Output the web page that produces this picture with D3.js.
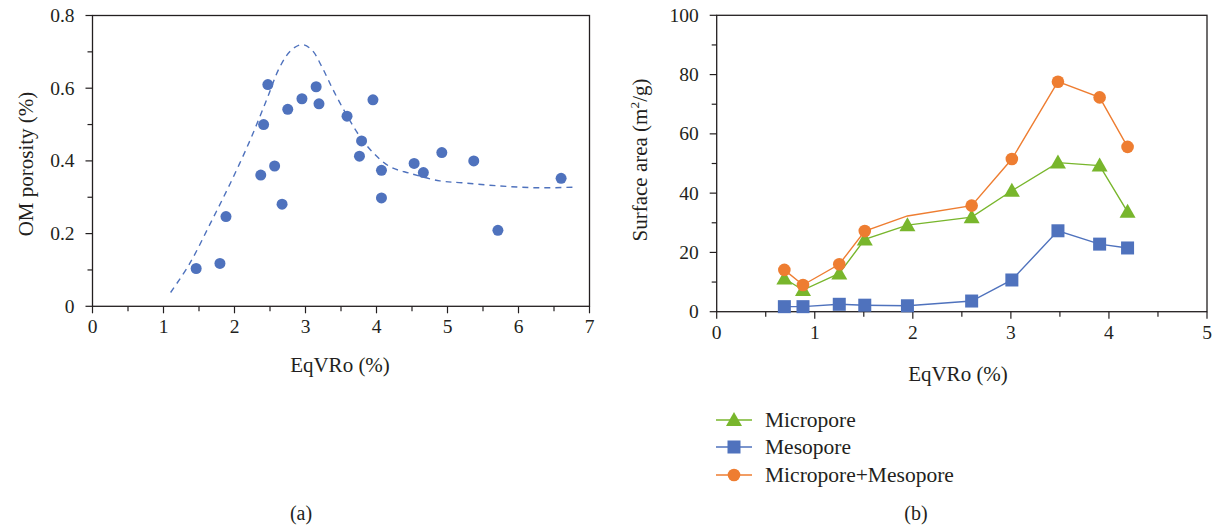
<!DOCTYPE html>
<html><head><meta charset="utf-8">
<script src="https://cdn.jsdelivr.net/npm/d3@7"></script>
<style>body{margin:0;background:#fff}svg{display:block}text{font-family:"Liberation Serif","DejaVu Serif",serif;fill:#231f20}</style>
</head><body><svg id="c" width="1215" height="527"></svg>
<script>
// ---- Panel (a) data ----
const porosityX = [1.46,1.795,1.88,2.37,2.41,2.47,2.565,2.67,2.75,2.95,3.15,3.19,3.585,3.79,3.76,3.95,4.07,4.07,4.53,4.66,4.92,5.37,5.71,6.60];
const porosityY = [0.104,0.118,0.247,0.361,0.500,0.610,0.386,0.281,0.542,0.571,0.604,0.557,0.523,0.455,0.413,0.568,0.374,0.298,0.393,0.368,0.423,0.400,0.209,0.352];
const trendX = [1.10,1.37,1.66,1.94,2.22,2.45,2.64,2.80,2.95,3.09,3.23,3.39,3.58,3.77,3.96,4.19,4.47,4.89,5.20,5.74,6.29,6.83];
const trendY = [0.038,0.118,0.228,0.338,0.457,0.567,0.659,0.705,0.720,0.705,0.659,0.595,0.526,0.466,0.421,0.384,0.366,0.345,0.340,0.331,0.326,0.328];
const aXTicks = [0,1,2,3,4,5,6,7];
const aYTicks = [0,0.2,0.4,0.6,0.8];
// ---- Panel (b) data ----
const eqvro = [0.69,0.88,1.25,1.51,1.945,2.60,3.01,3.48,3.905,4.19];
const micropore = [11.2,7.3,12.9,24.4,29.2,31.9,40.8,50.3,49.3,33.7];
const mesopore = [1.7,1.7,2.5,2.2,2.0,3.6,10.7,27.3,22.8,21.5];
const total = [14.1,9.0,16.0,27.2,32.3,35.8,51.5,77.6,72.3,55.6];
const totalMarkerHidden = [4];
const bXTicks = [0,1,2,3,4,5];
const bYTicks = [0,20,40,60,80,100];
const seriesNames = ["Micropore","Mesopore","Micropore+Mesopore"];

const svg = d3.select("#c");
const BLUE="#4f72bd", ORANGE="#ee7d31", GREEN="#78b62c", AXIS="#231f20";

function frame(g, x, y, xMinor, yMinor, xTicks, yTicks, yFmt){
  const [x0,x1]=x.range(), [y0,y1]=y.range();
  g.append("rect").attr("x",x0).attr("y",y1).attr("width",x1-x0).attr("height",y0-y1)
    .attr("fill","none").attr("stroke",AXIS).attr("stroke-width",1.3);
  g.selectAll(".xt").data(xMinor).join("line").attr("x1",d=>x(d)).attr("x2",d=>x(d))
    .attr("y1",y0).attr("y2",d=>y0+(xTicks.includes(d)?7:5)).attr("stroke",AXIS).attr("stroke-width",1.2);
  g.selectAll(".yt").data(yMinor).join("line").attr("y1",d=>y(d)).attr("y2",d=>y(d))
    .attr("x1",x0).attr("x2",d=>x0-(yTicks.includes(d)?7:5)).attr("stroke",AXIS).attr("stroke-width",1.2);
  g.selectAll(".xl").data(xTicks).join("text").attr("x",d=>x(d)).attr("y",y0+27)
    .attr("text-anchor","middle").attr("font-size",19.5).text(d=>d);
  g.selectAll(".yl").data(yTicks).join("text").attr("x",x0-18).attr("y",d=>y(d)+6.5)
    .attr("text-anchor","end").attr("font-size",19.5).text(yFmt);
}

// ---- Panel (a) ----
const xa = d3.scaleLinear().domain([0,7]).range([92.5,589.5]);
const ya = d3.scaleLinear().domain([0,0.8]).range([306.3,15.5]);
const ga = svg.append("g");
frame(ga, xa, ya, d3.range(0,7.01,0.5).map(v=>+v.toFixed(1)), d3.range(0,0.801,0.1).map(v=>+v.toFixed(1)),
  aXTicks, aYTicks, d=>d===0?"0":d.toFixed(1));
ga.append("path").datum(trendX.map((v,i)=>[v,trendY[i]]))
  .attr("d", d3.line().x(d=>xa(d[0])).y(d=>ya(d[1])).curve(d3.curveCatmullRom))
  .attr("fill","none").attr("stroke",BLUE).attr("stroke-width",1.4).attr("stroke-dasharray","6,5");
ga.selectAll(".pt").data(porosityX.map((v,i)=>[v,porosityY[i]])).join("circle")
  .attr("cx",d=>xa(d[0])).attr("cy",d=>ya(d[1])).attr("r",5.5).attr("fill",BLUE);
ga.append("text").attr("x",340).attr("y",372).attr("text-anchor","middle").attr("font-size",21).text("EqVRo (%)");
ga.append("text").attr("transform","translate(33,164) rotate(-90)").attr("text-anchor","middle").attr("font-size",21).text("OM porosity (%)");
ga.append("text").attr("x",301).attr("y",520).attr("text-anchor","middle").attr("font-size",20).text("(a)");

// ---- Panel (b) ----
const xb = d3.scaleLinear().domain([0,5]).range([716.7,1207]);
const yb = d3.scaleLinear().domain([0,100]).range([311.7,15.3]);
const gb = svg.append("g");
frame(gb, xb, yb, d3.range(0,5.01,0.5).map(v=>+v.toFixed(1)), d3.range(0,100.1,10),
  bXTicks, bYTicks, d=>d);
const line = d3.line().x(d=>xb(d[0])).y(d=>yb(d[1]));
const series = [
  {name:seriesNames[0], vals:micropore, color:GREEN, shape:"tri"},
  {name:seriesNames[1], vals:mesopore, color:BLUE, shape:"sq"},
  {name:seriesNames[2], vals:total, color:ORANGE, shape:"circ"}
];
function marker(g, shape, cx, cy, color){
  if(shape==="tri") g.append("path").attr("d",`M${cx},${cy-8}L${cx+8},${cy+6}L${cx-8},${cy+6}Z`).attr("fill",color);
  else if(shape==="sq") g.append("rect").attr("x",cx-6.5).attr("y",cy-6.5).attr("width",13).attr("height",13).attr("fill",color);
  else g.append("circle").attr("cx",cx).attr("cy",cy).attr("r",6.3).attr("fill",color);
}
series.forEach(s=>{
  const pts = eqvro.map((v,i)=>[v,s.vals[i]]);
  gb.append("path").datum(pts).attr("d",line).attr("fill","none").attr("stroke",s.color).attr("stroke-width",1.4);
  pts.forEach((p,i)=>{
    if(s.shape==="circ" && totalMarkerHidden.includes(i)) return;
    marker(gb, s.shape, xb(p[0]), yb(p[1]), s.color);
  });
});
gb.append("text").attr("x",958).attr("y",381).attr("text-anchor","middle").attr("font-size",21).text("EqVRo (%)");
const yt = gb.append("text").attr("transform","translate(647,160) rotate(-90)").attr("text-anchor","middle").attr("font-size",21);
yt.append("tspan").text("Surface area (m");
yt.append("tspan").attr("font-size",13.5).attr("dy",-8).text("2");
yt.append("tspan").attr("dy",8).text("/g)");
gb.append("text").attr("x",916).attr("y",520).attr("text-anchor","middle").attr("font-size",20).text("(b)");

// legend
const legY=[420,447,475];
series.forEach((s,i)=>{
  const lg = svg.append("g");
  lg.append("line").attr("x1",716).attr("x2",752).attr("y1",legY[i]).attr("y2",legY[i]).attr("stroke",s.color).attr("stroke-width",1.4);
  marker(lg, s.shape, 734, legY[i], s.color);
  lg.append("text").attr("x",765).attr("y",legY[i]+6.5).attr("font-size",21.5).text(s.name);
});
</script></body></html>
